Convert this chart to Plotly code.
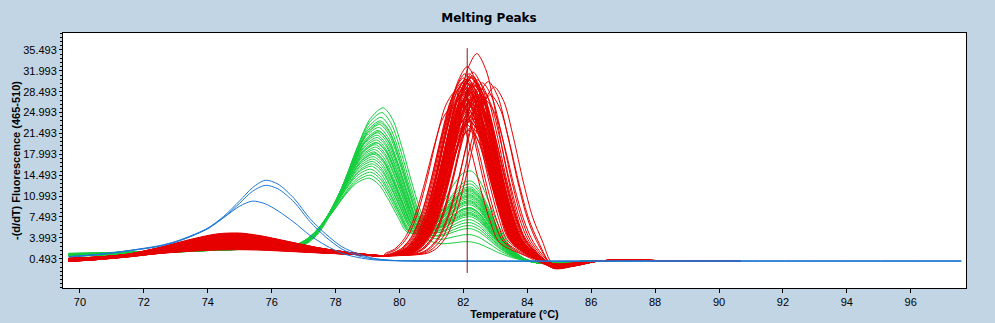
import plotly.graph_objects as go

# ---------------- data ----------------
# Blue samples (explicit knots)
blue_temps = [69.65, 70.5, 71.5, 72.5, 73.0, 73.5, 74.0, 74.5, 75.0, 75.4, 75.8, 76.2,
              76.7, 77.2, 77.7, 78.2, 78.7, 79.2, 79.8, 81.0, 90.0, 97.58]
blue_1 = [0.8, 1.15, 1.8, 2.6, 3.3, 4.3, 5.6, 7.6, 10.2, 12.4, 13.65, 13.0,
          10.6, 7.2, 4.6, 2.5, 1.3, 0.55, 0.2, 0.1, 0.1, 0.1]
blue_2 = [0.8, 1.15, 1.8, 2.6, 3.3, 4.3, 5.5, 7.4, 9.8, 11.8, 12.8, 12.2,
          10.0, 6.7, 4.1, 2.1, 1.0, 0.45, 0.2, 0.1, 0.1, 0.1]
blue_3 = [0.85, 1.2, 1.85, 2.7, 3.4, 4.4, 5.6, 7.4, 9.3, 10.15, 9.7, 8.5,
          6.6, 4.4, 2.7, 1.4, 0.7, 0.3, 0.15, 0.1, 0.1, 0.1]
blue_curves = [blue_1, blue_2, blue_3]

# Red samples: shared profile pieces + per-sample peak temperature / height above baseline
red_low_temps = [69.65, 70.5, 71.5, 72.5, 73.5, 74.3, 75.0, 75.7, 76.5, 77.5, 78.5, 79.5]
red_low_base = [0.25, 0.5, 0.85, 1.3, 1.6, 1.75, 1.8, 1.75, 1.6, 1.4, 1.2, 0.95]
red_bump_shape = [0.0, 0.0, 0.1, 0.35, 0.72, 0.97, 1.0, 0.85, 0.6, 0.3, 0.1, 0.02]
red_peak_offsets = [-2.1, -1.8, -1.5, -1.2, -0.9, -0.6, -0.3, 0.0, 0.3, 0.6, 0.9, 1.2, 1.5]
red_peak_shape = [0.014, 0.044, 0.114, 0.249, 0.458, 0.707, 0.917, 1.0, 0.917, 0.707, 0.458, 0.249, 0.114]
red_peak_base = [1.0, 1.0, 0.95, 0.9, 0.85, 0.8, 0.75, 0.7, 0.6, 0.5, 0.4, 0.3, 0.2]
red_tail_temps = [84.8, 85.45, 86.3, 88.5, 90.66]
red_tail_shape = [1.0, 0.7, 0.0, 0.0, 0.0]
red_tail_base = [0.0, 0.0, 0.14, 0.17, 0.17]

red_peak_temp = [82.42, 82.12, 82.05, 82.30, 82.20, 82.15, 82.35, 82.78, 82.97, 82.60,
                 81.95, 82.25, 82.10, 82.30, 82.00, 82.20, 82.40, 82.10, 82.25, 82.05,
                 82.35, 82.15, 82.30, 82.20, 82.10, 82.25, 82.18, 81.75, 81.85, 81.65,
                 82.85, 82.70, 82.55, 82.45, 82.00, 82.22, 82.32, 82.14, 82.40, 82.06,
                 82.28, 82.50, 81.90, 82.08,
                 82.18, 82.26, 82.12, 82.34, 82.02, 82.22, 82.16, 82.30, 82.08, 82.24,
                 82.38, 82.14, 82.20, 82.28, 82.04, 82.32, 82.10, 82.26, 82.18, 82.36,
                 82.12, 82.22, 82.06, 82.30, 82.16, 82.44]
red_peak_height = [34.2, 32.0, 30.8, 31.1, 30.3, 29.8, 29.5, 29.5, 28.6, 29.3,
                   29.3, 28.8, 28.3, 27.8, 27.3, 26.8, 26.3, 25.8, 25.3, 24.8,
                   24.3, 23.8, 23.3, 22.8, 22.3, 21.8, 21.3, 27.8, 26.3, 25.3,
                   27.3, 26.3, 28.3, 27.3, 30.1, 29.1, 27.1, 28.1, 28.9, 26.6,
                   30.5, 25.5, 28.5, 29.9,
                   30.8, 30.1, 29.3, 28.8, 28.3, 27.8, 27.3, 26.8, 26.3, 25.8,
                   25.3, 24.8, 24.3, 30.3, 29.6, 29.0, 28.5, 28.0, 27.5, 27.0,
                   26.5, 26.0, 25.5, 23.8, 23.1, 29.8]
red_bump_height = [3.0, 2.6, 1.2, 2.2, 0.6, 1.8, 2.9, 0.4, 1.5, 2.4,
                   0.9, 2.0, 1.1, 2.7, 0.5, 1.6, 2.3, 0.8, 1.9, 2.8,
                   0.3, 1.4, 2.5, 1.0, 2.1, 0.7, 1.7, 2.6, 1.3, 0.2,
                   2.0, 1.5, 2.9, 0.6, 1.2, 2.4, 1.8, 0.9, 2.2, 1.6,
                   0.4, 2.7, 1.1, 1.9,
                   1.3, 2.1, 0.5, 2.6, 1.0, 1.8, 2.3, 0.7, 1.5, 2.9,
                   0.3, 1.2, 2.0, 1.7, 0.9, 2.5, 1.4, 0.6, 2.2, 1.1,
                   1.9, 0.8, 2.4, 1.6, 0.4, 2.8]
red_dip = [-1.1, -0.9, -0.6, -1.0, -0.8, -0.5, -0.95, -0.7, -0.4, -0.85,
           -0.65, -1.05, -0.55, -0.75, -0.9, -0.45, -1.0, -0.6, -0.8, -0.7,
           -0.35, -0.95, -0.5, -0.85, -0.65, -0.4, -0.75, -0.9, -0.6, -0.3,
           -0.8, -0.55, -1.0, -0.7, -0.85, -0.6, -0.95, -0.5, -0.75, -0.65,
           -0.9, -0.45, -0.8, -0.7,
           -0.8, -0.6, -0.95, -0.5, -0.7, -0.85, -0.4, -1.0, -0.65, -0.75,
           -0.55, -0.9, -0.6, -0.8, -0.7, -1.05, -0.5, -0.85, -0.65, -0.45,
           -0.9, -0.75, -0.6, -0.55, -0.35, -1.0]
red_start_offset = [0.15, -0.1, 0.3, 0.0, -0.2, 0.25, 0.05, -0.15, 0.2, -0.05,
                    0.1, -0.2, 0.3, 0.0, 0.15, -0.1, 0.25, -0.15, 0.05, 0.2,
                    -0.05, 0.1, -0.2, 0.3, 0.0, 0.15, -0.1, 0.25, -0.15, 0.05,
                    0.2, -0.05, 0.1, -0.2, 0.3, 0.0, 0.15, -0.1, 0.25, -0.15,
                    0.05, 0.2, -0.05, 0.1,
                    -0.2, 0.3, 0.0, 0.15, -0.1, 0.25, -0.15, 0.05, 0.2, -0.05,
                    0.1, -0.2, 0.3, 0.0, 0.15, -0.1, 0.25, -0.15, 0.05, 0.2,
                    -0.05, 0.1, -0.2, 0.3, 0.0, 0.15]
red_start_weight = [1.0, 0.85, 0.6, 0.35, 0.15, 0.0, 0.0, 0.0, 0.0, 0.0, 0.0, 0.0]

# Green samples: two melting peaks (~79.3 and ~82.2 degC), heights above baseline
green_low_temps = [69.65, 70.5, 71.5, 72.5, 73.5, 74.5, 75.5, 76.0]
green_low_vals = [1.15, 1.25, 1.45, 1.6, 1.8, 2.0, 2.1, 2.15]
green_start_weight = [1.0, 0.9, 0.7, 0.5, 0.3, 0.15, 0.0, 0.0]
green_p1_offsets = [-2.8, -2.4, -2.0, -1.6, -1.2, -0.8, -0.4, 0.0, 0.3, 0.6, 0.9, 1.2]
green_p1_shape = [0.0, 0.03, 0.11, 0.26, 0.47, 0.72, 0.92, 1.0, 0.92, 0.72, 0.48, 0.27]
green_p1_base = [2.2, 2.25, 2.3, 2.3, 2.3, 2.25, 2.2, 2.1, 2.0, 1.9, 1.8, 1.7]
green_p2_temps = [80.9, 81.3, 81.7, 82.0, 82.25, 82.5, 82.8, 83.1, 83.5, 83.9, 84.4, 85.0, 86.0, 90.66]
green_p2_shape = [0.27, 0.53, 0.82, 0.97, 1.0, 0.9, 0.65, 0.38, 0.135, 0.033, 0.0, 0.0, 0.0, 0.0]
green_p1_tail = [0.10, 0.03, 0.006, 0.0, 0.0, 0.0, 0.0, 0.0, 0.0, 0.0, 0.0, 0.0, 0.0, 0.0]
green_p2_base = [1.5, 1.3, 1.1, 1.0, 0.9, 0.8, 0.7, 0.6, 0.4, 0.1, -0.25, -0.2, 0.12, 0.15]

green_peak1_temp = [79.49, 79.45, 79.42, 79.40, 79.38, 79.35, 79.34, 79.32, 79.30, 79.30,
                    79.28, 79.27, 79.25, 79.25, 79.22, 79.20, 79.20, 79.18, 79.17, 79.15,
                    79.15, 79.12, 79.10, 79.10, 79.08, 79.05, 79.36, 79.30, 79.22, 79.40]
green_peak1_height = [23.7, 22.9, 22.1, 21.5, 20.9, 20.4, 19.9, 19.5, 19.1, 18.7,
                      18.3, 17.9, 17.5, 17.1, 16.7, 16.3, 15.9, 15.5, 15.1, 14.7,
                      14.3, 13.9, 13.4, 12.9, 12.4, 11.9, 19.7, 17.8, 16.1, 21.2]
green_peak2_height = [8.1, 10.6, 5.6, 12.1, 7.1, 9.6, 11.1, 6.6, 8.6, 14.3,
                      4.6, 10.1, 7.6, 11.6, 9.1, 5.1, 8.1, 12.6, 6.1, 10.9,
                      2.4, 9.3, 7.9, 11.3, 6.9, 8.9, 10.3, 3.6, 9.9, 7.3]
green_start_offset = [0.2, -0.1, 0.05, -0.2, 0.15, 0.0, -0.15, 0.1, -0.05, 0.25,
                      -0.25, 0.08, -0.12, 0.18, -0.08, 0.12, -0.18, 0.03, 0.22, -0.22,
                      0.06, -0.02, 0.14, -0.14, 0.1, -0.06, 0.2, -0.1, 0.0, 0.16]

cursor_temp = 82.12
cursor_span = [-1.9, 35.8]

y_tick_values = [0.493, 3.993, 7.493, 10.993, 14.493, 17.993, 21.493, 24.993, 28.493, 31.993, 35.493]
x_tick_values = [70, 72, 74, 76, 78, 80, 82, 84, 86, 88, 90, 92, 94, 96]

# ---------------- styling ----------------
RED = "rgb(230,0,0)"
GREEN = "rgb(20,205,60)"
BLUE = "rgb(30,120,215)"
BG = "rgb(193,213,229)"

fig = go.Figure()

# green first (underneath)
for tp1, h1, h2, so in zip(green_peak1_temp, green_peak1_height, green_peak2_height, green_start_offset):
    xs = list(green_low_temps)
    ys = [v + so * w for v, w in zip(green_low_vals, green_start_weight)]
    xs += [tp1 + o for o in green_p1_offsets]
    ys += [b + h1 * s for b, s in zip(green_p1_base, green_p1_shape)]
    xs += green_p2_temps
    ys += [b + h1 * r + h2 * s for b, r, s in zip(green_p2_base, green_p1_tail, green_p2_shape)]
    fig.add_trace(go.Scatter(x=xs, y=ys, mode="lines",
                             line=dict(color=GREEN, width=1, shape="spline", smoothing=0.8),
                             hoverinfo="skip"))

# red samples
for tp, h, bh, dp, so in zip(red_peak_temp, red_peak_height, red_bump_height, red_dip, red_start_offset):
    xs = list(red_low_temps)
    ys = [b + bh * s + so * w for b, s, w in zip(red_low_base, red_bump_shape, red_start_weight)]
    xs += [tp + o for o in red_peak_offsets]
    ys += [b + h * s for b, s in zip(red_peak_base, red_peak_shape)]
    xs += red_tail_temps
    ys += [b + dp * s for b, s in zip(red_tail_base, red_tail_shape)]
    fig.add_trace(go.Scatter(x=xs, y=ys, mode="lines",
                             line=dict(color=RED, width=1, shape="spline", smoothing=0.8),
                             hoverinfo="skip"))

# blue samples on top
for bc in blue_curves:
    fig.add_trace(go.Scatter(x=blue_temps, y=bc, mode="lines",
                             line=dict(color=BLUE, width=1, shape="spline", smoothing=0.8),
                             hoverinfo="skip"))

# cursor line
fig.add_trace(go.Scatter(x=[cursor_temp, cursor_temp], y=cursor_span, mode="lines",
                         line=dict(color="rgb(130,25,25)", width=1), hoverinfo="skip"))

fig.update_layout(
    width=995, height=323,
    margin=dict(l=63, r=29, t=33, b=35, autoexpand=False),
    paper_bgcolor=BG, plot_bgcolor="white",
    showlegend=False,
    font=dict(family="Liberation Sans, Arial, sans-serif", size=11, color="black"),
    title=dict(text="Melting Peaks", x=489 / 995, xanchor="center", xref="container",
               y=1 - 18 / 323, yanchor="middle", yref="container",
               font=dict(family="DejaVu Sans", size=12, color="black", weight="bold")),
)
fig.update_xaxes(
    range=[69.47, 97.73], tickmode="array", tickvals=x_tick_values,
    ticks="outside", ticklen=4, tickcolor="black", automargin=False,
    showline=True, linecolor="black", linewidth=1, mirror=True,
    showgrid=False, zeroline=False,
    tickfont=dict(family="Liberation Sans", size=11, color="black"),
    title=dict(text="Temperature (°C)", standoff=2,
               font=dict(family="Liberation Sans", size=11, color="black", weight="bold")),
)
fig.update_yaxes(
    range=[-4.42, 38.34], tickmode="array", tickvals=y_tick_values,
    ticktext=[f"{v:.3f}" for v in y_tick_values],
    ticks="outside", ticklen=3, tickcolor="black", automargin=False,
    minor=dict(tickmode="linear", tick0=y_tick_values[0],
               dtick=(y_tick_values[1] - y_tick_values[0]) / 5, ticklen=2, ticks="outside",
               tickcolor="black", showgrid=False),
    showline=True, linecolor="black", linewidth=1, mirror=True,
    showgrid=False, zeroline=False,
    tickfont=dict(family="Liberation Sans", size=11, color="black"),
    title=dict(text="-(d/dT) Fluorescence (465-510)", standoff=0,
               font=dict(family="Liberation Sans", size=11, color="black", weight="bold")),
)

fig.write_html("out.html")
